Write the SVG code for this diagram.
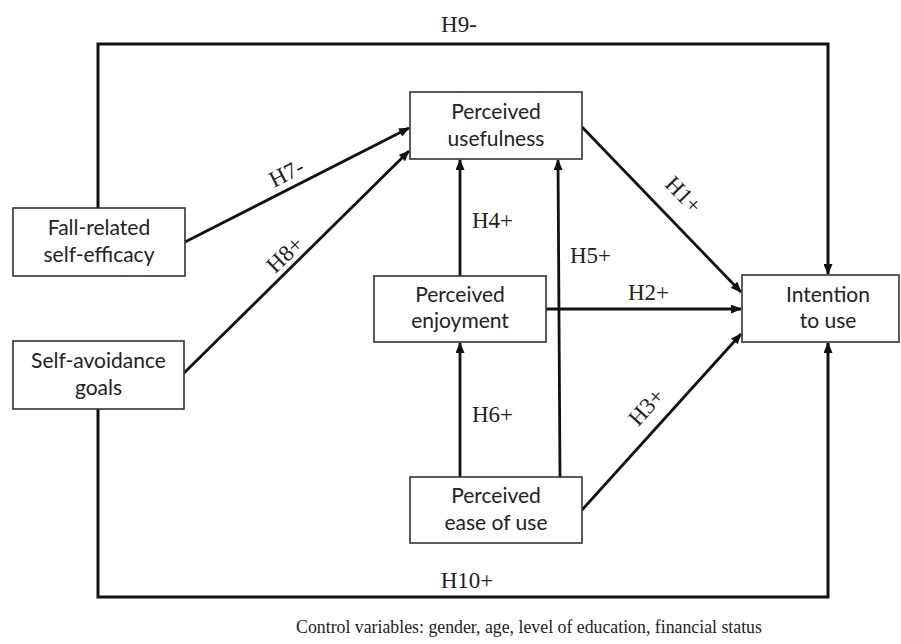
<svg xmlns="http://www.w3.org/2000/svg" width="901" height="644" viewBox="0 0 901 644">
<defs>
<marker id="ah" viewBox="0 0 11 9" refX="10" refY="4.5" markerWidth="11" markerHeight="9" markerUnits="userSpaceOnUse" orient="auto">
<path d="M0,0 L11,4.5 L0,9 z" fill="#111"/>
</marker>
<style>
.box{fill:#fff;stroke:#333;stroke-width:1.6}
.nt{font-family:Lato,"Liberation Sans",sans-serif;font-size:21px;fill:#222;text-anchor:middle}
.ln{fill:none;stroke:#111;stroke-width:2.8}
.lp{fill:none;stroke:#111;stroke-width:3}
.lb{font-family:"Liberation Serif","Times New Roman",serif;font-size:23px;fill:#222}
</style>
</defs>
<rect width="901" height="644" fill="#fff"/>
<g id="connectors">
<path class="lp" d="M98,208 V44 H828 V274" marker-end="url(#ah)"/>
<path class="lp" d="M98,409 V597 H828 V343" marker-end="url(#ah)"/>
<line class="ln" x1="185" y1="242" x2="409" y2="128" marker-end="url(#ah)"/>
<line class="ln" x1="184" y1="373" x2="409" y2="151" marker-end="url(#ah)"/>
<line class="ln" x1="582" y1="127" x2="741" y2="292" marker-end="url(#ah)"/>
<line class="ln" x1="546" y1="309" x2="741" y2="309" marker-end="url(#ah)"/>
<line class="ln" x1="582" y1="510" x2="741" y2="334" marker-end="url(#ah)"/>
<line class="ln" x1="460" y1="276" x2="460" y2="160" marker-end="url(#ah)"/>
<line class="ln" x1="560" y1="477" x2="558" y2="160" marker-end="url(#ah)"/>
<line class="ln" x1="460" y1="477" x2="460" y2="343" marker-end="url(#ah)"/>
<text class="lb" x="459" y="32" text-anchor="middle">H9-</text>
<text class="lb" x="467" y="588" text-anchor="middle">H10+</text>
<text class="lb" x="472" y="228">H4+</text>
<text class="lb" x="472" y="422">H6+</text>
<text class="lb" x="570" y="263">H5+</text>
<text class="lb" x="628" y="300">H2+</text>
<text class="lb" transform="translate(290,180) rotate(-27)" text-anchor="middle">H7-</text>
<text class="lb" transform="translate(290,260) rotate(-44)" text-anchor="middle">H8+</text>
<text class="lb" transform="translate(678,200) rotate(46)" text-anchor="middle">H1+</text>
<text class="lb" transform="translate(652,412) rotate(-48)" text-anchor="middle">H3+</text>
</g>
<g id="fall">
<rect class="box" x="13" y="208" width="172" height="68"/>
<text class="nt" x="99" y="235">Fall-related</text>
<text class="nt" x="99" y="262">self-efficacy</text>
</g>
<g id="selfavoid">
<rect class="box" x="13" y="341" width="171" height="68"/>
<text class="nt" x="98.5" y="368">Self-avoidance</text>
<text class="nt" x="98.5" y="395">goals</text>
</g>
<g id="usefulness">
<rect class="box" x="410" y="92" width="172" height="67"/>
<text class="nt" x="496" y="119">Perceived</text>
<text class="nt" x="496" y="146">usefulness</text>
</g>
<g id="enjoyment">
<rect class="box" x="374" y="276" width="172" height="66"/>
<text class="nt" x="460" y="302">Perceived</text>
<text class="nt" x="460" y="328">enjoyment</text>
</g>
<g id="intention">
<rect class="box" x="742" y="275" width="157" height="67"/>
<text class="nt" x="828" y="302">Intention</text>
<text class="nt" x="828" y="328">to use</text>
</g>
<g id="ease">
<rect class="box" x="410" y="477" width="172" height="66"/>
<text class="nt" x="496" y="503">Perceived</text>
<text class="nt" x="496" y="530">ease of use</text>
</g>
<text class="lb" x="529" y="633" text-anchor="middle" style="font-size:17.8px">Control variables: gender, age, level of education, financial status</text>
</svg>
